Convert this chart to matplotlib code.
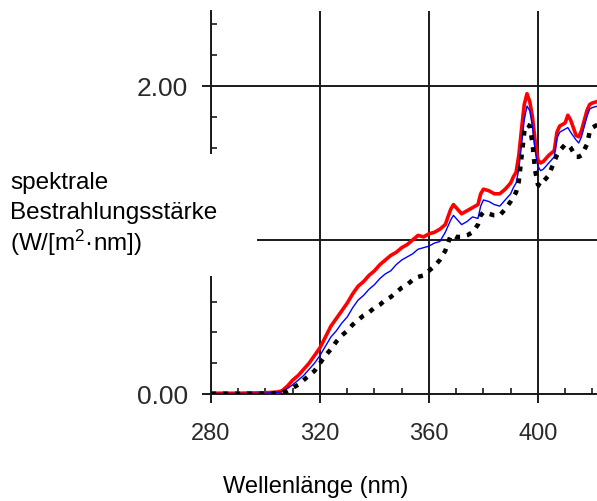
import matplotlib
matplotlib.use("Agg")
import matplotlib.pyplot as plt
from matplotlib.patches import Rectangle
from matplotlib.ticker import MultipleLocator

plt.rcParams['font.family'] = ['Liberation Sans', 'DejaVu Sans']
plt.rcParams['mathtext.fontset'] = 'custom'
plt.rcParams['mathtext.rm'] = 'Liberation Sans'
plt.rcParams['mathtext.default'] = 'regular'

# wavelength (nm) and spectral irradiance
wavelength = [280, 290, 300, 304, 306, 308, 310, 312, 314, 316, 318, 320, 322, 324,
              326, 328, 330, 332, 334, 336, 338, 340, 342, 344, 346, 348, 350, 352,
              354, 356, 358, 360, 362, 364, 366, 368, 369, 370, 372, 374, 376, 378,
              379, 380, 382, 384, 386, 388, 390, 391, 392, 393, 394, 395, 396, 397,
              398, 399, 400, 401, 402, 404, 406, 407, 408, 410, 411, 412, 414, 415,
              416, 418, 419, 420, 422]

red_series = [0.005, 0.005, 0.008, 0.012, 0.02, 0.05, 0.09, 0.12, 0.16, 0.20, 0.25, 0.30,
              0.37, 0.44, 0.49, 0.54, 0.59, 0.65, 0.70, 0.73, 0.77, 0.80, 0.84, 0.87,
              0.90, 0.92, 0.95, 0.97, 1.00, 1.03, 1.02, 1.04, 1.05, 1.07, 1.10, 1.20,
              1.23, 1.21, 1.17, 1.19, 1.21, 1.23, 1.30, 1.33, 1.32, 1.30, 1.30, 1.33,
              1.37, 1.41, 1.44, 1.55, 1.72, 1.88, 1.95, 1.90, 1.80, 1.64, 1.52, 1.50,
              1.51, 1.55, 1.58, 1.70, 1.74, 1.76, 1.81, 1.78, 1.68, 1.67, 1.71, 1.84,
              1.88, 1.89, 1.90]

blue_series = [0.003, 0.003, 0.005, 0.01, 0.015, 0.035, 0.06, 0.09, 0.12, 0.16, 0.20, 0.25,
               0.31, 0.37, 0.41, 0.46, 0.50, 0.56, 0.61, 0.64, 0.68, 0.71, 0.75, 0.78,
               0.80, 0.84, 0.87, 0.89, 0.91, 0.94, 0.95, 0.96, 0.98, 0.99, 1.05, 1.13,
               1.16, 1.14, 1.10, 1.12, 1.15, 1.14, 1.22, 1.26, 1.25, 1.23, 1.22, 1.26,
               1.30, 1.34, 1.37, 1.46, 1.62, 1.78, 1.87, 1.84, 1.74, 1.58, 1.48, 1.45,
               1.46, 1.50, 1.54, 1.66, 1.70, 1.72, 1.73, 1.70, 1.65, 1.63, 1.67, 1.80,
               1.85, 1.86, 1.87]

black_series = [0.002, 0.002, 0.003, 0.006, 0.01, 0.02, 0.04, 0.06, 0.09, 0.12, 0.15, 0.20,
                0.25, 0.29, 0.34, 0.38, 0.41, 0.45, 0.48, 0.51, 0.53, 0.56, 0.58, 0.61,
                0.63, 0.66, 0.69, 0.71, 0.74, 0.76, 0.77, 0.80, 0.83, 0.87, 0.93, 1.03,
                1.03, 1.02, 1.02, 1.03, 1.05, 1.10, 1.16, 1.18, 1.17, 1.16, 1.16, 1.20,
                1.25, 1.28, 1.31, 1.38, 1.54, 1.70, 1.75, 1.74, 1.63, 1.45, 1.36, 1.35,
                1.38, 1.42, 1.51, 1.55, 1.58, 1.62, 1.62, 1.60, 1.54, 1.54, 1.55, 1.62,
                1.70, 1.73, 1.75]

x_ticks = [280, 320, 360, 400]
y_ticks = [0.0, 1.0, 2.0]
y_tick_labels = ['0.00', '', '2.00']  # the 1.00 label sits under the y label box
ylabel_lines = ['spektrale', 'Bestrahlungsstärke', '(W/[m$^{2}$·nm])']

W, H = 597, 502
fig = plt.figure(figsize=(W / 100, H / 100), dpi=100)
ax = fig.add_axes([211 / W, (H - 395) / H, 1 - 211 / W, (395 - 12) / H])

ink = '#1a1a1a'
ax.plot(wavelength, red_series, color='#ff0000', lw=2.6, zorder=3)
ax.plot(wavelength, blue_series, color='#0000ff', lw=1.0, zorder=4)
ax.plot(wavelength, black_series, color='black', lw=3.2, ls=(0, (1.1, 1.6)), zorder=5)

ax.set_xlim(280, 421.7)
ax.set_ylim(0, 2.487)
ax.set_xticks(x_ticks)
ax.set_yticks(y_ticks)
ax.set_yticklabels(y_tick_labels)
ax.xaxis.set_minor_locator(MultipleLocator(10))
ax.yaxis.set_minor_locator(MultipleLocator(0.2))

for s in ['top', 'right']:
    ax.spines[s].set_visible(False)
for s in ['left', 'bottom']:
    ax.spines[s].set_color(ink)
    ax.spines[s].set_linewidth(1.4)

ax.tick_params(which='major', direction='out', length=6.5, width=1.4, color=ink,
               labelcolor='#2a2a2a')
ax.tick_params(axis='x', which='major', pad=14, labelsize=17)
ax.tick_params(axis='y', which='major', pad=10, labelsize=19)
ax.tick_params(which='minor', direction='in', length=4, width=1.2, color=ink)
ax.grid(True, which='major', color=ink, lw=1.4, zorder=1)
ax.set_axisbelow(True)
ax.patch.set_alpha(0)

# white box under the y label cuts the axis line, as in the original
fig.patches.append(Rectangle((0, (H - 277) / H), 257 / W, 122 / H,
                             transform=fig.transFigure, facecolor='white',
                             edgecolor='none', zorder=10))
for i, line in enumerate(ylabel_lines):
    fig.text(10 / W, (H - 183 - 30 * i) / H, line, ha='left', va='center',
             fontsize=17.5, color='black', zorder=11)

fig.text(316 / W, (H - 487) / H, 'Wellenlänge (nm)', ha='center', va='center',
         fontsize=17, color='black')

fig.savefig('out.png', dpi=100)
